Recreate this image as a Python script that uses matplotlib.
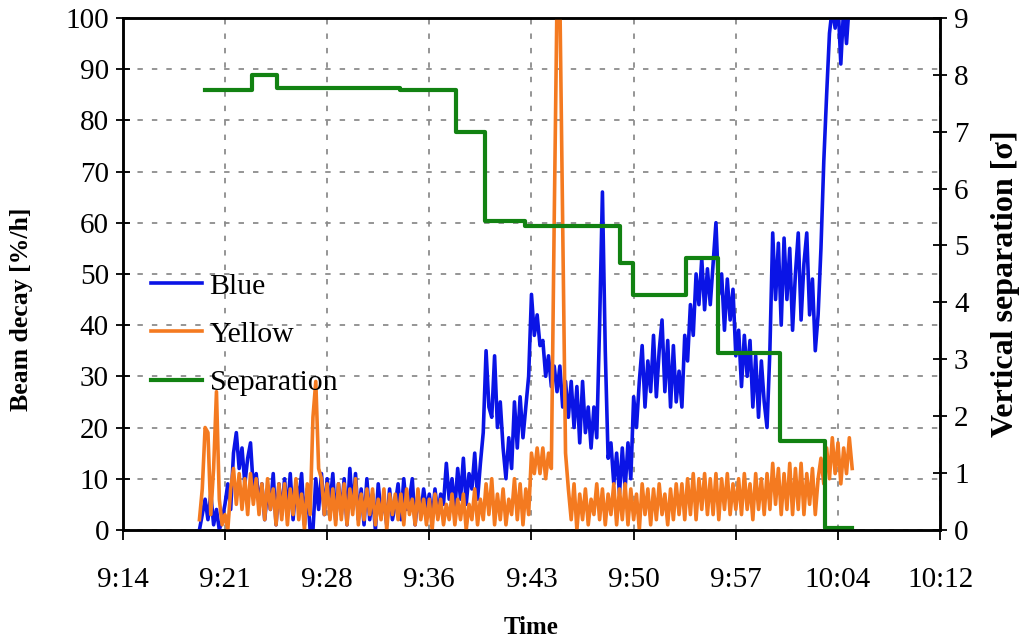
import matplotlib
matplotlib.use("Agg")
import matplotlib.pyplot as plt
import numpy as np
from matplotlib.ticker import FuncFormatter

plt.rcParams["font.family"] = ["Liberation Serif", "DejaVu Serif"]

# time axis in minutes after 9:00, samples every 0.2 min starting 9:19:48
T_START = 19.8
T_STEP = 0.2

# beam decay [%/h]
blue = [
    0, 3, 6, 2, 7, 1, 4, 0, 2, 5,
    9, 4, 15, 19, 12, 16, 9, 14, 17, 8,
    11, 5, 9, 2, 8, 4, 11, 1, 9, 3,
    10, 3, 11, 2, 9, 6, 11, 1, 8, 0,
    0, 10, 4, 11, 3, 10, 5, 11, 2, 9,
    3, 10, 1, 12, 4, 11, 2, 8, 1, 10,
    2, 7, 0, 9, 3, 6, 1, 8, 2, 5,
    9, 2, 10, 4, 6, 10, 1, 7, 3, 8,
    4, 7, 2, 8, 3, 7, 5, 13, 6, 10,
    4, 12, 6, 14, 5, 11, 8, 15, 6, 13,
    19, 35, 24, 22, 34, 20, 25, 16, 10, 18,
    12, 25, 16, 26, 18, 24, 30, 46, 38, 42,
    36, 37, 30, 34, 28, 32, 27, 32, 24, 29,
    22, 29, 20, 28, 17, 29, 19, 24, 16, 24,
    18, 40, 66, 35, 14, 17, 9, 15, 7, 16,
    8, 17, 10, 26, 20, 29, 36, 24, 33, 27,
    38, 26, 35, 41, 27, 37, 24, 36, 25, 31,
    24, 38, 33, 44, 38, 50, 44, 53, 43, 51,
    44, 52, 60, 46, 50, 39, 49, 41, 47, 34,
    39, 28, 38, 30, 37, 24, 34, 22, 33, 25,
    20, 35, 58, 45, 56, 40, 57, 45, 55, 39,
    50, 58, 41, 52, 58, 42, 49, 35, 42, 55,
    72, 85, 97, 102, 98, 103, 91, 102, 95, 103,
    101,
]
yellow = [
    2, 8, 20, 19, 3, 12, 27, 6, 1, 3,
    0, 8, 12, 5, 11, 4, 10, 3, 11, 5,
    10, 3, 9, 2, 10, 4, 8, 1, 9, 2,
    9, 1, 8, 3, 10, 2, 7, 0, 9, 3,
    22, 29, 12, 10, 3, 9, 2, 8, 1, 9,
    2, 9, 1, 8, 3, 10, 1, 7, 2, 8,
    3, 8, 1, 6, 2, 8, 0, 7, 3, 7,
    2, 7, 1, 8, 3, 6, 1, 8, 2, 6,
    1, 6, 0, 7, 2, 6, 1, 5, 2, 7,
    1, 6, 2, 7, 0, 5, 2, 8, 1, 6,
    2, 9, 3, 10, 1, 7, 2, 8, 1, 6,
    3, 10, 2, 9, 1, 8, 3, 15, 11, 16,
    11, 16, 10, 15, 12, 60, 104, 104, 60, 15,
    8, 2, 9, 0, 7, 2, 8, 1, 6, 3,
    9, 2, 8, 1, 7, 3, 9, 1, 8, 2,
    9, 1, 8, 2, 7, 0, 9, 3, 8, 1,
    8, 2, 9, 3, 7, 1, 8, 2, 9, 3,
    9, 2, 10, 3, 11, 2, 10, 4, 11, 3,
    10, 3, 11, 2, 10, 4, 11, 3, 9, 4,
    10, 3, 11, 4, 9, 2, 11, 4, 10, 3,
    11, 4, 13, 5, 12, 3, 11, 4, 13, 3,
    12, 4, 13, 3, 11, 5, 12, 3, 10, 14,
    9, 16, 10, 18, 11, 17, 9, 16, 11, 18,
    12,
]

# vertical separation [sigma], step changes (minutes after 9:00)
sep_time = [20.18, 23.5, 25.26, 33.9, 37.88, 39.92, 42.74, 49.44, 50.36,
            54.09, 56.35, 60.72, 63.89, 65.8]
sep_level = [7.73, 8.0, 7.77, 7.73, 7.0, 5.43, 5.34, 4.69, 4.13,
             4.78, 3.11, 1.56, 0.03, 0.03]

t = T_START + T_STEP * np.arange(len(blue))


def hhmm(m, pos=None):
    m = int(m + 1e-6)
    return f"{9 + m // 60}:{m % 60:02d}"


fig = plt.figure(figsize=(10.32, 6.4), dpi=100)
ax = fig.add_axes([0.119, 0.172, 0.792, 0.8])
ax2 = ax.twinx()

l1, = ax.plot(t, blue, color="#0a14e6", lw=2.6, label="Blue", zorder=3)
l2, = ax.plot(t, yellow, color="#f47a20", lw=2.6, label="Yellow", zorder=4)
l3, = ax2.plot(sep_time, sep_level, color="#128212", lw=3.0,
               drawstyle="steps-post", label="Separation")

ax.set_xlim(14.4, 72.0)
ax.set_ylim(0, 100)
ax2.set_ylim(0, 9)
ax.set_xticks(np.arange(14.4, 72.01, 7.2))
ax.xaxis.set_major_formatter(FuncFormatter(hhmm))
ax.set_yticks(range(0, 101, 10))
ax2.set_yticks(range(0, 10))

ax.grid(True, color="#8c8c8c", ls=(0, (3, 5)), lw=1.3)
ax.set_axisbelow(True)
ax.set_zorder(ax2.get_zorder() - 1)
ax.patch.set_visible(True)
ax2.patch.set_visible(False)

for a in (ax, ax2):
    for s in a.spines.values():
        s.set_linewidth(1.8)
ax.tick_params(axis="y", direction="inout", length=10, width=1.3, labelsize=21, pad=5)
ax.tick_params(axis="x", direction="out", length=7, width=1.3, labelsize=21, pad=20)
ax2.tick_params(axis="y", direction="inout", length=10, width=1.3, labelsize=21, pad=5)

ax.set_xlabel("Time", fontsize=18, fontweight="bold", labelpad=16)
ax.set_ylabel("Beam decay [%/h]", fontsize=18.5, fontweight="bold")
ax.yaxis.set_label_coords(-0.11, 0.43)
ax2.set_ylabel("Vertical separation [σ]", fontsize=23, fontweight="bold")
ax2.yaxis.set_label_coords(1.062, 0.48)

ax.legend([l1, l2, l3], ["Blue", "Yellow", "Separation"], loc="upper left",
          bbox_to_anchor=(0.002, 0.555), frameon=False, fontsize=21.5,
          handlelength=1.7, labelspacing=0.72, handletextpad=0.25)

fig.savefig("out.png", dpi=100)
